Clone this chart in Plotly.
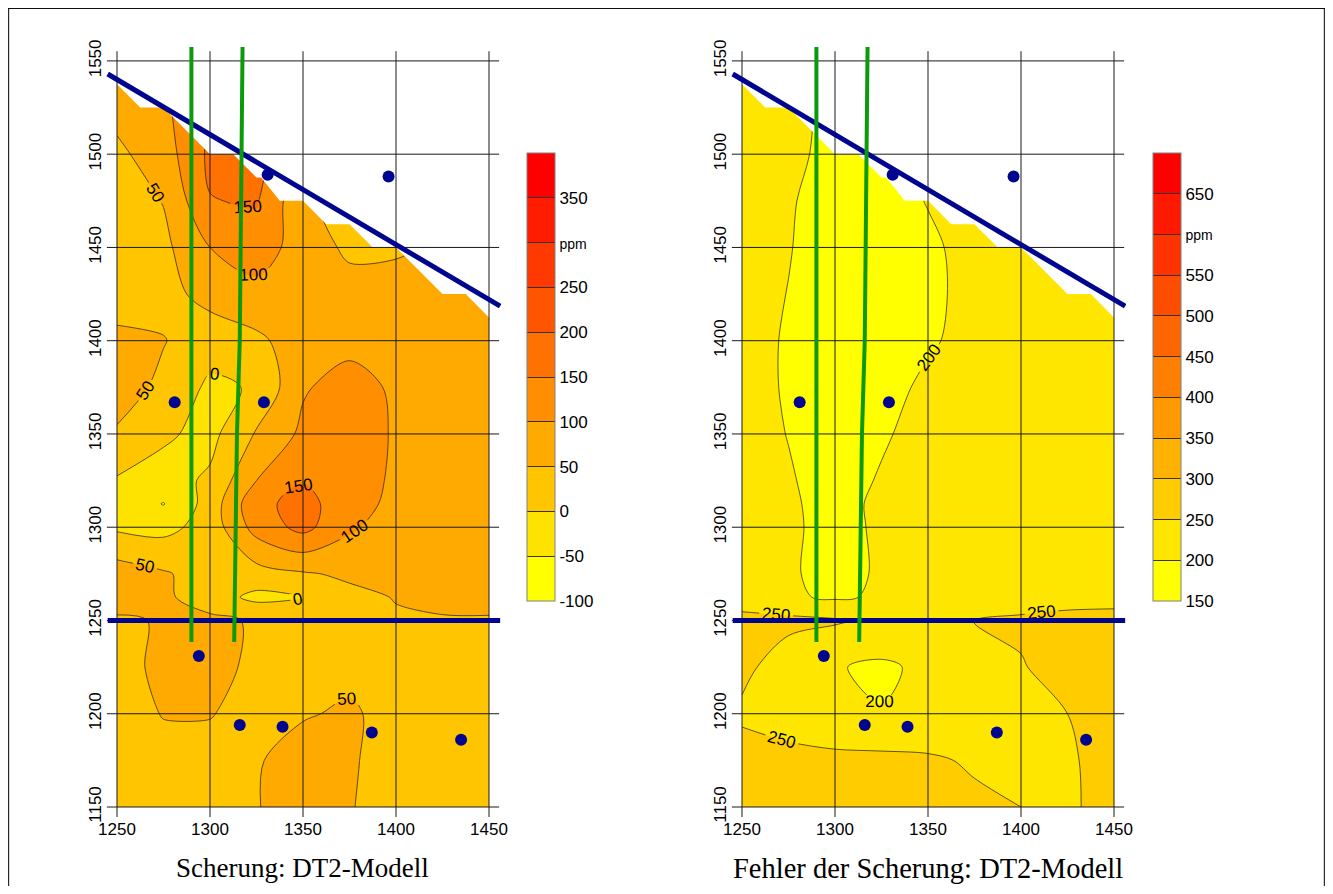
import plotly.graph_objects as go

# ---------------- data ----------------
x_nodes = [1250, 1275, 1300, 1325, 1350, 1375, 1400, 1425, 1450]
y_nodes = [1150, 1175, 1200, 1225, 1250, 1262.5, 1275, 1300, 1312.5, 1325,
           1350, 1375, 1400, 1425, 1450, 1475, 1500, 1525, 1550]

# Scherung (ppm), rows follow y_nodes, columns follow x_nodes
shear_z = [
    [25, 30, 35, 48, 70, 52, 35, 30, 30],
    [28, 35, 35, 45, 75, 55, 32, 28, 28],
    [30, 52, 52, 35, 45, 58, 30, 25, 25],
    [35, 60, 65, 40, 33, 35, 32, 30, 30],
    [35, 58, 62, 44, 30, 35, 45, 48, 48],
    [98, 60, 22, -12, -2, 38, 52, 56, 57],
    [75, 55, 30, 30, 45, 58, 65, 65, 65],
    [-8, -15, 20, 120, 165, 108, 75, 70, 68],
    [-15, -52, 20, 138, 165, 125, 85, 75, 70],
    [-5, -20, 8, 100, 148, 130, 90, 78, 72],
    [45, 8, -15, 55, 110, 125, 95, 80, 75],
    [70, 40, -10, 5, 95, 120, 92, 80, 75],
    [65, 52, 25, 40, 75, 85, 75, 70, 70],
    [20, 35, 65, 85, 80, 70, 65, 65, 65],
    [20, 38, 100, 125, 78, 40, 45, 55, 60],
    [25, 52, 148, 155, 60, 30, 30, 40, 50],
    [40, 75, 160, 170, 90, 40, 30, 40, 50],
    [65, 90, 150, 170, 100, 50, 35, 40, 50],
    [80, 100, 150, 160, 110, 60, 40, 40, 50],
]

# Fehler der Scherung (ppm)
error_z = [
    [275, 272, 270, 268, 265, 258, 250, 245, 262],
    [270, 262, 262, 262, 256, 245, 238, 246, 262],
    [242, 232, 212, 202, 215, 230, 240, 250, 262],
    [262, 225, 203, 192, 210, 232, 248, 262, 268],
    [262, 262, 255, 240, 238, 251, 255, 258, 258],
    [230, 206, 194, 206, 218, 225, 235, 240, 242],
    [218, 203, 192, 203, 215, 220, 224, 226, 228],
    [216, 205, 190, 205, 215, 220, 223, 224, 225],
    [215, 204, 190, 206, 215, 220, 223, 224, 225],
    [215, 203, 186, 203, 214, 220, 223, 224, 225],
    [214, 199, 182, 196, 212, 220, 223, 224, 225],
    [215, 196, 178, 186, 208, 218, 222, 224, 225],
    [215, 196, 177, 178, 195, 213, 222, 225, 226],
    [216, 199, 178, 176, 190, 214, 222, 225, 226],
    [218, 202, 180, 178, 192, 215, 224, 226, 226],
    [222, 204, 182, 180, 202, 220, 226, 228, 228],
    [228, 210, 188, 185, 205, 222, 228, 230, 230],
    [230, 212, 190, 192, 212, 225, 230, 230, 230],
    [230, 215, 190, 195, 215, 225, 230, 230, 230],
]

# measuring points
point_x = [1331, 1396, 1281, 1329, 1294, 1316, 1339, 1387, 1435]
point_y = [1489, 1488, 1367, 1367, 1231, 1194, 1193, 1190, 1186]

# fault (diagonal) and base line
fault_x = [1245, 1456]
fault_y = [1543, 1418.5]
base_x = [1245, 1456]
base_y = [1250, 1250]

# boreholes (green)
well1_x = [1290, 1290]
well1_y = [1557.5, 1238.5]
well2_x = [1317.5, 1317, 1316, 1314.5, 1313]
well2_y = [1557.5, 1505, 1400, 1350, 1238.5]

# blanking boundary (above it the grid is blanked)
blank_x = [1250, 1262.5, 1275, 1300, 1312.5, 1325, 1327.5, 1337.5, 1350,
           1362.5, 1375, 1387.5, 1400, 1425, 1437.5, 1450]
blank_y = [1537.5, 1525, 1525, 1500, 1500, 1487.5, 1487.5, 1475, 1475,
           1462.5, 1462.5, 1450, 1450, 1425, 1425, 1412.5]

x_ticks = [1250, 1300, 1350, 1400, 1450]
y_ticks = [1150, 1200, 1250, 1300, 1350, 1400, 1450, 1500, 1550]

PPM = '<span style="font-size:14px">ppm</span>'
shear_levels = dict(start=-50, end=350, size=50)
error_levels = dict(start=200, end=650, size=50)
shear_bar_vals = [-100, -50, 0, 50, 100, 150, 200, 250, 300, 350]
shear_bar_text = ["-100", "-50", "0", "50", "100", "150", "200", "250", PPM, "350"]
shear_bar_range = [-100, 400]
error_bar_vals = [150, 200, 250, 300, 350, 400, 450, 500, 550, 600, 650]
error_bar_text = ["150", "200", "250", "300", "350", "400", "450", "500", "550", PPM, "650"]
error_bar_range = [150, 700]

captions = ["Scherung: DT2-Modell", "Fehler der Scherung: DT2-Modell"]

# ---------------- styling / layout helpers ----------------
W, H = 1317, 878
SANS = "Liberation Sans"
NAVY = "#000590"
GREEN = "#0c9a0c"


def band_colors(n):
    return ["rgb(255,%d,0)" % round(255 * (1 - k / (n - 1))) for k in range(n)]


def contour_scale(n):
    cols = band_colors(n)
    return [[k / (n - 1), cols[k]] for k in range(n)]


def stepped_scale(n):
    cols = band_colors(n)
    out = []
    for k in range(n):
        out.append([k / n, cols[k]])
        out.append([(k + 1) / n, cols[k]])
    return out


x_rng = [1243.55, 1456.45]
y_rng = [1144.64, 1558.0]
y_dom = [1 - 809 / H, 1 - 38 / H]
x_doms = [[97 / W, 493 / W], [722 / W, 1118 / W]]
cbar_x = [519 / W, 1145 / W]

fig = go.Figure()

panels = [
    (shear_z, shear_levels, shear_bar_vals, shear_bar_text, shear_bar_range, 10),
    (error_z, error_levels, error_bar_vals, error_bar_text, error_bar_range, 11),
]

for i, (z, lv, bvals, btext, brange, nb) in enumerate(panels):
    xa = "x" if i == 0 else "x2"
    ya = "y" if i == 0 else "y2"
    fig.add_trace(go.Contour(
        x=x_nodes, y=y_nodes, z=z, xaxis=xa, yaxis=ya,
        autocontour=False,
        contours=dict(start=lv["start"], end=lv["end"], size=lv["size"],
                      coloring="fill", showlines=True, showlabels=True,
                      labelfont=dict(family=SANS, size=17, color="black")),
        line=dict(color="#1a1a1a", width=0.7, smoothing=0.9),
        colorscale=contour_scale(nb), showscale=False,
        hoverinfo="skip",
    ))
    # blanked area (white)
    mx = blank_x + [blank_x[-1], blank_x[0], blank_x[0]]
    my = blank_y + [1560, 1560, blank_y[0]]
    fig.add_trace(go.Scatter(x=mx, y=my, xaxis=xa, yaxis=ya, mode="lines",
                             fill="toself", fillcolor="white",
                             line=dict(width=0, color="white"),
                             hoverinfo="skip", showlegend=False))
    # grid lines
    gx, gy = [], []
    for xv in x_ticks:
        gx += [xv, xv, None]
        gy += [y_rng[0], 1555.2, None]
    for yv in y_ticks:
        gx += [x_rng[0] + 1, x_rng[1] - 1, None]
        gy += [yv, yv, None]
    fig.add_trace(go.Scatter(x=gx, y=gy, xaxis=xa, yaxis=ya, mode="lines",
                             line=dict(color="#1a1a1a", width=1),
                             hoverinfo="skip", showlegend=False))
    # base line and fault
    fig.add_trace(go.Scatter(x=base_x, y=base_y, xaxis=xa, yaxis=ya, mode="lines",
                             line=dict(color=NAVY, width=5),
                             hoverinfo="skip", showlegend=False))
    fig.add_trace(go.Scatter(x=fault_x, y=fault_y, xaxis=xa, yaxis=ya, mode="lines",
                             line=dict(color=NAVY, width=5),
                             hoverinfo="skip", showlegend=False))
    # wells
    for wx, wy in [(well1_x, well1_y), (well2_x, well2_y)]:
        fig.add_trace(go.Scatter(x=wx, y=wy, xaxis=xa, yaxis=ya, mode="lines",
                                 line=dict(color=GREEN, width=4),
                                 hoverinfo="skip", showlegend=False))
    # points
    fig.add_trace(go.Scatter(x=point_x, y=point_y, xaxis=xa, yaxis=ya, mode="markers",
                             marker=dict(color=NAVY, size=12),
                             hoverinfo="skip", showlegend=False))
    # colour bar (band legend)
    fig.add_trace(go.Scatter(
        x=[None], y=[None], xaxis=xa, yaxis=ya, mode="markers",
        marker=dict(color=[brange[0]], colorscale=stepped_scale(nb),
                    cmin=brange[0], cmax=brange[1], showscale=True,
                    colorbar=dict(x=cbar_x[i], xanchor="left", xref="paper",
                                  y=1 - 369 / H, yanchor="middle", yref="paper",
                                  len=448, lenmode="pixels", thickness=28,
                                  thicknessmode="pixels", xpad=0, ypad=0,
                                  outlinewidth=1, outlinecolor="#808080",
                                  tickvals=bvals, ticktext=btext,
                                  ticks="inside", ticklen=28, tickwidth=1,
                                  tickcolor="#333333",
                                  tickfont=dict(family=SANS, size=17, color="black"))),
        hoverinfo="skip", showlegend=False))

axis_common = dict(showgrid=False, zeroline=False, showline=False, ticks="",
                   automargin=False,
                   tickfont=dict(family=SANS, size=17, color="black"))

fig.update_layout(
    template="none",
    width=W, height=H,
    margin=dict(l=0, r=0, t=0, b=0, autoexpand=False),
    paper_bgcolor="white", plot_bgcolor="white",
    showlegend=False, hovermode=False,
    xaxis=dict(domain=x_doms[0], range=x_rng, tickvals=x_ticks, anchor="y", **axis_common),
    yaxis=dict(domain=y_dom, range=y_rng, tickvals=y_ticks, tickangle=-90, anchor="x", **axis_common),
    xaxis2=dict(domain=x_doms[1], range=x_rng, tickvals=x_ticks, anchor="y2", **axis_common),
    yaxis2=dict(domain=y_dom, range=y_rng, tickvals=y_ticks, tickangle=-90, anchor="x2", **axis_common),
    annotations=[
        dict(text=captions[0], x=294 / W, y=1 - 860 / H, xref="paper", yref="paper",
             xanchor="center", yanchor="middle",
             showarrow=False, font=dict(family="Liberation Serif", size=27, color="black")),
        dict(text=captions[1], x=920 / W, y=1 - 860 / H, xref="paper", yref="paper",
             xanchor="center", yanchor="middle",
             showarrow=False, font=dict(family="Liberation Serif", size=28.5, color="black")),
    ],
    shapes=[
        dict(type="line", xref="paper", yref="paper", x0=0.0005, x1=0.0005, y0=0, y1=1,
             line=dict(color="black", width=1)),
        dict(type="line", xref="paper", yref="paper", x0=0, x1=1, y0=0.9995, y1=0.9995,
             line=dict(color="black", width=1)),
        dict(type="line", xref="paper", yref="paper", x0=0.9995, x1=0.9995, y0=0, y1=1,
             line=dict(color="black", width=1)),
    ],
)

fig.write_html("out.html")
